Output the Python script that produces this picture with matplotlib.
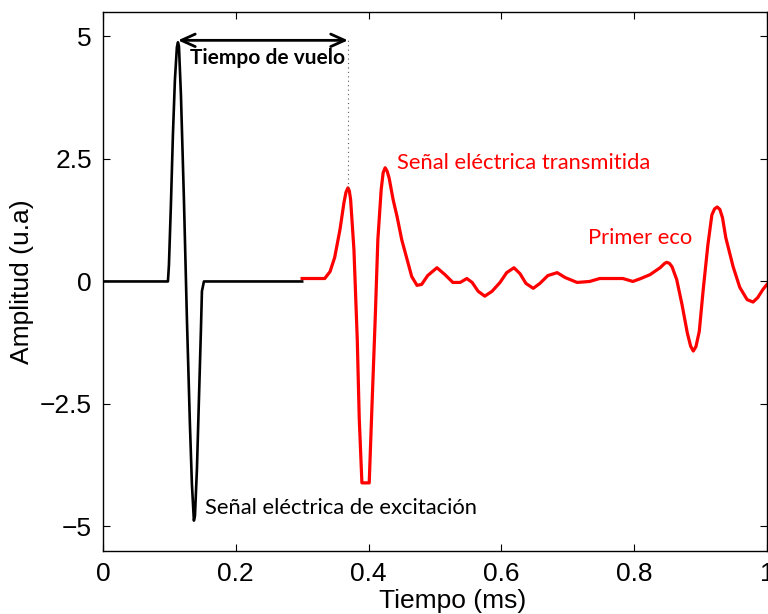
import matplotlib

matplotlib.use("Agg")
import matplotlib.pyplot as plt

# Excitation pulse (black), time in ms, amplitude in a.u.
exc_t = [0.0, 0.0979, 0.0994, 0.1024, 0.1054, 0.1084, 0.1114, 0.1130, 0.1145,
         0.1175, 0.1220, 0.1265, 0.1310, 0.1340, 0.1370, 0.1386, 0.1416,
         0.1446, 0.1476, 0.1491, 0.1521, 0.300]
exc_a = [0.0, 0.0, 0.33, 1.57, 2.99, 4.11, 4.78, 4.88, 4.80,
         3.80, 1.67, -0.77, -2.91, -4.13, -4.88, -4.78, -3.82,
         -2.40, -0.98, -0.20, 0.0, 0.0]

# Transmitted signal + first echo (red)
rx_t = [0.300, 0.334, 0.342, 0.349, 0.357, 0.363, 0.366, 0.369, 0.371, 0.373,
        0.378, 0.383, 0.386, 0.390, 0.401, 0.405, 0.410, 0.414, 0.419, 0.422,
        0.425, 0.428, 0.431, 0.437, 0.443, 0.450, 0.458, 0.465, 0.473, 0.480,
        0.489, 0.503, 0.515, 0.527, 0.538, 0.548, 0.556, 0.565, 0.575, 0.586,
        0.598, 0.608, 0.619, 0.628, 0.637, 0.648, 0.658, 0.670, 0.684, 0.696,
        0.714, 0.733, 0.748, 0.767, 0.783, 0.798, 0.810, 0.824, 0.839, 0.846,
        0.849, 0.853, 0.857, 0.864, 0.872, 0.880, 0.885, 0.889, 0.893, 0.898,
        0.904, 0.911, 0.917, 0.921, 0.925, 0.929, 0.933, 0.938, 0.949, 0.959,
        0.970, 0.979, 0.986, 0.994, 1.000]
rx_a = [0.06, 0.06, 0.20, 0.49, 1.06, 1.61, 1.82, 1.91, 1.85, 1.67,
        0.65, -1.18, -2.80, -4.11, -4.11, -2.60, -0.77, 0.85, 1.87, 2.22,
        2.32, 2.25, 2.11, 1.67, 1.32, 0.85, 0.45, 0.10, -0.08, -0.06,
        0.12, 0.28, 0.14, -0.02, -0.02, 0.06, -0.02, -0.20, -0.30, -0.20,
        -0.02, 0.18, 0.28, 0.16, -0.04, -0.14, -0.04, 0.12, 0.18, 0.08,
        -0.02, 0.0, 0.06, 0.06, 0.06, 0.0, 0.06, 0.14, 0.28, 0.37,
        0.39, 0.37, 0.30, 0.04, -0.47, -1.05, -1.32, -1.42, -1.33, -1.02,
        -0.16, 0.75, 1.36, 1.48, 1.52, 1.47, 1.30, 0.89, 0.30, -0.12,
        -0.37, -0.42, -0.33, -0.16, -0.06]

x_ticks = [0, 0.2, 0.4, 0.6, 0.8, 1]
x_ticklabels = ["0", "0.2", "0.4", "0.6", "0.8", "1"]
y_ticks = [-5, -2.5, 0, 2.5, 5]
y_ticklabels = ["\u22125", "\u22122.5", "0", "2.5", "5"]

# time-of-flight markers: excitation peak -> first transmitted peak
tof_start = (0.113, 4.92)
tof_end = (0.369, 4.92)
tof_peak_a = 1.91

TICK_FONT = "Liberation Sans"
NOTE_FONT = "Lato"

fig = plt.figure(figsize=(7.68, 6.14), dpi=100)
ax = fig.add_axes([0.134, 0.1026, 0.8647, 0.878])

ax.plot(exc_t, exc_a, color="black", linewidth=1.9, solid_joinstyle="round")
ax.plot(rx_t, rx_a, color="red", linewidth=2.3, solid_joinstyle="round")

ax.plot([tof_end[0], tof_end[0]], [tof_peak_a, tof_end[1]], color="0.35",
        linestyle=(0, (1, 3)), linewidth=0.8)
ax.annotate("", xy=tof_start, xytext=tof_end,
            arrowprops=dict(arrowstyle="<->,head_length=1.0,head_width=0.45",
                            color="black", lw=2.0, shrinkA=0, shrinkB=0))

ax.text(0.248, 4.55, "Tiempo de vuelo", fontsize=15, fontweight="bold",
        family=NOTE_FONT, ha="center", va="center")
ax.text(0.443, 2.42, "Señal eléctrica transmitida", fontsize=15.8, color="red",
        family=NOTE_FONT, ha="left", va="center")
ax.text(0.730, 0.88, "Primer eco", fontsize=15.8, color="red",
        family=NOTE_FONT, ha="left", va="center")
ax.text(0.154, -4.63, "Señal eléctrica de excitación", fontsize=15.8,
        family=NOTE_FONT, ha="left", va="center")

ax.set_xlim(0, 1)
ax.set_ylim(-5.5, 5.5)
ax.set_xticks(x_ticks)
ax.set_xticklabels(x_ticklabels)
ax.set_yticks(y_ticks)
ax.set_yticklabels(y_ticklabels)
ax.tick_params(direction="in", length=5, width=0.8, top=True, right=True,
               labelsize=19, pad=8)
for lbl in ax.get_xticklabels() + ax.get_yticklabels():
    lbl.set_family(TICK_FONT)
for side in ax.spines.values():
    side.set_linewidth(1.0)

ax.set_xlabel("Tiempo (ms)", fontsize=19, family=TICK_FONT, labelpad=2)
ax.set_ylabel("Amplitud (u.a)", fontsize=19, family=TICK_FONT, labelpad=4)
ax.xaxis.set_label_coords(0.526, -0.07)

fig.savefig("out.png", dpi=100)
plt.close(fig)
